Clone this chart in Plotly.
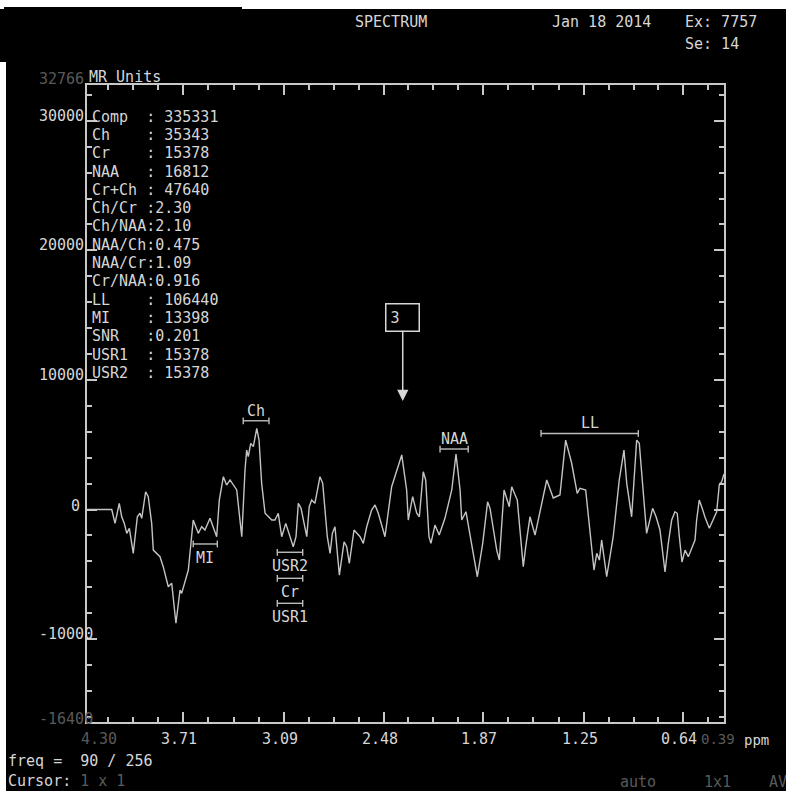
import numpy as np
import plotly.graph_objects as go

# ---- page / frame geometry (pixels) ----
W, H = 786, 791
FL, FR, FT, FB = 87, 724, 85, 722

# ---- spectrum: chemical shift (ppm) and signal (MR units) ----
ppm = [4.300, 4.148, 4.128, 4.102, 4.087, 4.071, 4.056, 4.040, 4.016, 3.991,
       3.975, 3.964, 3.940, 3.924, 3.903, 3.893, 3.852, 3.832, 3.801, 3.780,
       3.754, 3.729, 3.719, 3.678, 3.648, 3.617, 3.596, 3.576, 3.545, 3.504,
       3.488, 3.463, 3.443, 3.422, 3.381, 3.350, 3.330, 3.320, 3.310, 3.295,
       3.279, 3.258, 3.244, 3.228, 3.207, 3.166, 3.146, 3.126, 3.105, 3.080,
       3.034, 3.017, 3.003, 2.986, 2.951, 2.936, 2.921, 2.901, 2.870, 2.853,
       2.825, 2.808, 2.794, 2.778, 2.751, 2.722, 2.706, 2.690, 2.661, 2.624,
       2.604, 2.583, 2.553, 2.532, 2.512, 2.471, 2.430, 2.410, 2.368, 2.338,
       2.328, 2.301, 2.276, 2.260, 2.236, 2.221, 2.201, 2.189, 2.164, 2.138,
       2.103, 2.061, 2.035, 2.010, 2.000, 1.974, 1.939, 1.904, 1.871, 1.841,
       1.826, 1.785, 1.769, 1.740, 1.708, 1.693, 1.659, 1.622, 1.607, 1.581,
       1.550, 1.503, 1.478, 1.438, 1.397, 1.362, 1.325, 1.291, 1.274, 1.239,
       1.202, 1.188, 1.171, 1.155, 1.141, 1.110, 1.070, 1.033, 1.004, 0.987,
       0.957, 0.942, 0.926, 0.910, 0.881, 0.865, 0.828, 0.807, 0.783, 0.752,
       0.732, 0.711, 0.691, 0.677, 0.664, 0.648, 0.629, 0.609, 0.588, 0.568,
       0.558, 0.542, 0.527, 0.507, 0.480, 0.456, 0.435, 0.419, 0.404, 0.390]
signal = [0, 0, -1070, 480, -560, -1070, -1840, -1450, -3380, -560,
          -290, -680, 1370, 990, -1070, -3130, -3640, -4410, -5960, -5700,
          -8780, -6210, -6470, -4670, -810, -1840, -1330, -1580, -680, -2100,
          730, 2530, 1890, 2280, 1510, -2100, 3050, 4590, 4080, 5110,
          4850, 6270, 5360, 2020, -290, -810, -810, -290, -2100, -1070,
          -2870, -2100, 480, 90, -2100, 220, 730, 480, 2530, 2020,
          -2100, -3380, -1840, -1330, -5060, -2490, -2870, -4150, -1580, -2100,
          -2610, -1330, -40, 350, -290, -2100, 1760, 2530, 4210, 1510,
          -810, 990, -290, -560, 2920, 2280, -2100, -2610, -1200, -1970,
          -680, 1510, 4280, 1510, -810, -170, -2610, -5190, -2610, 600,
          90, -3130, -3900, 1510, 220, 1760, 730, -4410, -2870, -560,
          -1970, 730, 2280, 890, 1120, 5360, 3570, 1250, 1640, 1510,
          -3380, -4670, -3380, -3900, -2350, -5190, -2100, 2280, 4590, 2020,
          -560, 2530, 5360, 5110, 220, -1840, 90, -560, -1580, -4820,
          -2610, -810, -170, -290, -2100, -4050, -3130, -3640, -2990, -2350,
          -810, 730, 220, -580, -1450, -810, -170, 1890, 2150, 2740]

# ---- axes ----
x_range = [4.30, 0.39]
y_range = [-16400, 32766]
x_ticks = [3.71, 3.09, 2.48, 1.87, 1.25, 0.64]
x_tick_text = ["3.71", "3.09", "2.48", "1.87", "1.25", "0.64"]
y_ticks = [30000, 20000, 10000, 0, -10000]
y_tick_text = ["30000", "20000", "10000", "0", "-10000"]

# ---- integration regions: name, ppm from, ppm to, bar level, label side ----
region_names = ["Ch", "MI", "USR2", "Cr", "USR1", "NAA", "LL"]
region_from = [3.341, 3.648, 3.132, 3.132, 3.132, 2.133, 1.513]
region_to = [3.183, 3.500, 2.976, 2.976, 2.976, 1.960, 0.916]
region_level = [6850, -2660, -3300, -5310, -7240, 4670, 5870]
region_side = ["above", "below", "below", "below", "below", "above", "above"]

# ---- result table ----
stat_lines = ["Comp  : 335331", "Ch    : 35343", "Cr    : 15378",
              "NAA   : 16812", "Cr+Ch : 47640", "Ch/Cr :2.30",
              "Ch/NAA:2.10", "NAA/Ch:0.475", "NAA/Cr:1.09",
              "Cr/NAA:0.916", "LL    : 106440", "MI    : 13398",
              "SNR   :0.201", "USR1  : 15378", "USR2  : 15378"]

# cursor marker
cursor_label = "3"
cursor_ppm = 2.362
cursor_tip = 8370

FG = "#d6d6d6"
DIM = "#5a5a5a"
LINE = "#c4c4c4"
MONO = "DejaVu Sans Mono"


def pxx(p):
    return (p - FL) / (FR - FL)


def pxy(p):
    return (FB - p) / (FB - FT)


fig = go.Figure()

fig.add_trace(go.Scatter(x=ppm, y=signal, mode="lines",
                         line=dict(color=LINE, width=1.4),
                         hoverinfo="skip", showlegend=False))

# region bars with end caps
cap = 260
bx, by = [], []
for lo, hi, lv in zip(region_from, region_to, region_level):
    bx += [lo, hi, None, lo, lo, None, hi, hi, None]
    by += [lv, lv, None, lv - cap, lv + cap, None, lv - cap, lv + cap, None]
fig.add_trace(go.Scatter(x=bx, y=by, mode="lines",
                         line=dict(color="#bdbdbd", width=1.4),
                         hoverinfo="skip", showlegend=False))

ann = []
for name, lo, hi, lv, side in zip(region_names, region_from, region_to,
                                  region_level, region_side):
    ann.append(dict(x=(lo + hi) / 2, y=lv, xref="x", yref="y", text=name,
                    showarrow=False, yanchor="middle",
                    yshift=10 if side == "above" else -14,
                    font=dict(family=MONO, size=15, color=FG)))

# cursor box with arrow
ann.append(dict(x=cursor_ppm, y=cursor_tip, xref="x", yref="y",
                text=cursor_label, showarrow=True, ax=0, ay=-84,
                arrowhead=2, arrowsize=1.5, arrowwidth=1.5, arrowcolor=FG,
                bordercolor=FG, borderwidth=1.5, borderpad=4, width=24,
                align="left", font=dict(family=MONO, size=15, color=FG)))

# y labels (left-justified column)
for v, t in zip(y_ticks, y_tick_text):
    if t == "0":
        ann.append(dict(x=pxx(82), y=v, xref="paper", yref="y", text=t,
                        showarrow=False, xanchor="right", yanchor="middle",
                        yshift=4, font=dict(family=MONO, size=15, color=FG)))
    else:
        ann.append(dict(x=pxx(37), y=v, xref="paper", yref="y", text=t,
                        showarrow=False, xanchor="left", yanchor="middle",
                        yshift=5, font=dict(family=MONO, size=15, color=FG)))
ann.append(dict(x=pxx(37), y=y_range[1], xref="paper", yref="y", text="32766",
                showarrow=False, xanchor="left", yanchor="middle", yshift=6,
                font=dict(family=MONO, size=15, color=DIM)))
ann.append(dict(x=pxx(37), y=y_range[0], xref="paper", yref="y", text="-16400",
                showarrow=False, xanchor="left", yanchor="middle", yshift=3,
                font=dict(family=MONO, size=15, color=DIM)))

# x tick labels, set a little left of their ticks
for v, t in zip(x_ticks, x_tick_text):
    ann.append(dict(x=v, y=pxy(739), xref="x", yref="paper", text=t,
                    showarrow=False, xanchor="center", yanchor="middle",
                    xshift=-4, font=dict(family=MONO, size=15, color=FG)))
ann.append(dict(x=x_range[0], y=pxy(739), xref="x", yref="paper", text="4.30",
                showarrow=False, xanchor="center", yanchor="middle",
                xshift=12, font=dict(family=MONO, size=15, color=DIM)))
ann.append(dict(x=pxx(699), y=pxy(739), xref="paper", yref="paper", text="0.39",
                showarrow=False, xanchor="left", yanchor="middle",
                font=dict(family=MONO, size=14, color=DIM)))
ann.append(dict(x=pxx(742), y=pxy(740), xref="paper", yref="paper", text="ppm",
                showarrow=False, xanchor="left", yanchor="middle",
                font=dict(family=MONO, size=14, color=FG)))

# result table
for i, line in enumerate(stat_lines):
    ann.append(dict(x=pxx(90), y=pxy(116.7 + 18.3 * i), xref="paper",
                    yref="paper", text=line.replace(" ", "&nbsp;"),
                    showarrow=False, xanchor="left", yanchor="middle",
                    font=dict(family=MONO, size=15, color=FG)))


def page_text(x, y, text, color=FG, anchor="left", size=15):
    ann.append(dict(x=pxx(x), y=pxy(y), xref="paper", yref="paper",
                    text=text, showarrow=False, xanchor=anchor,
                    yanchor="middle", font=dict(family=MONO, size=size,
                                                color=color)))


page_text(87, 77, "MR Units")
page_text(391, 22, "SPECTRUM", anchor="center")
page_text(550, 22, "Jan 18 2014")
page_text(683, 22, "Ex: 7757")
page_text(683, 44, "Se: 14")
page_text(6, 761, "freq =&nbsp;&nbsp;90 / 256")
page_text(6, 781, "Cursor: <span style='color:%s'>1 x 1</span>" % DIM)
page_text(638, 782, "auto", color=DIM, anchor="center")
page_text(717, 782, "1x1", color=DIM, anchor="center")
page_text(767, 782, "AV", color=DIM)

# minor ppm ticks: quarter steps between labelled ticks
step = float(np.mean(-np.diff(x_ticks))) / 4
minor_x = [x_ticks[0] + step * k for k in range(1, 5)]
for a, b in zip(x_ticks[:-1], x_ticks[1:]):
    minor_x += list(np.linspace(a, b, 5)[1:-1])
minor_x += [x_ticks[-1] - step * k for k in range(1, 3)]

axis_common = dict(showgrid=False, zeroline=False, showline=True,
                   linecolor="#c8c8c8", linewidth=2, mirror="ticks",
                   ticks="inside", tickcolor="#c8c8c8", tickwidth=2,
                   ticklen=10)

fig.update_layout(
    width=W, height=H,
    margin=dict(l=FL, r=W - FR, t=FT, b=H - FB, pad=0),
    paper_bgcolor="black", plot_bgcolor="black",
    xaxis=dict(range=x_range, tickmode="array", tickvals=x_ticks,
               showticklabels=False,
               minor=dict(tickmode="array", tickvals=minor_x, ticks="inside",
                          ticklen=5, tickwidth=2, tickcolor="#c8c8c8"),
               **axis_common),
    yaxis=dict(range=y_range, tickmode="array", tickvals=y_ticks,
               showticklabels=False,
               minor=dict(tick0=0, dtick=2000, ticks="inside", ticklen=5,
                          tickwidth=2, tickcolor="#c8c8c8"),
               **axis_common),
    annotations=ann,
    shapes=[
        dict(type="rect", xref="paper", yref="paper", layer="above",
             x0=pxx(-5), x1=pxx(W + 5), y0=pxy(-5), y1=pxy(9),
             fillcolor="white", line=dict(width=0)),
        dict(type="rect", xref="paper", yref="paper", layer="above",
             x0=pxx(-5), x1=pxx(6), y0=pxy(62), y1=pxy(H + 5),
             fillcolor="white", line=dict(width=0)),
        dict(type="rect", xref="paper", yref="paper", layer="above",
             x0=pxx(4), x1=pxx(242), y0=pxy(62), y1=pxy(7),
             fillcolor="black", line=dict(width=0)),
    ],
)

fig.write_html("out.html")
